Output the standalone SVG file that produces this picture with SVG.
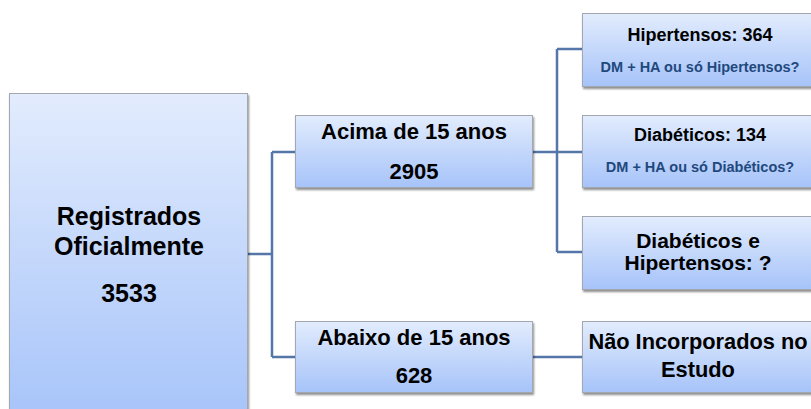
<svg xmlns="http://www.w3.org/2000/svg" width="811" height="409" viewBox="0 0 811 409">
<defs>
<linearGradient id="g" x1="0" y1="0" x2="0" y2="1">
<stop offset="0" stop-color="#e2ecfd"/>
<stop offset="1" stop-color="#a6c3f9"/>
</linearGradient>
<filter id="sh" x="-5%" y="-5%" width="115%" height="125%">
<feGaussianBlur in="SourceAlpha" stdDeviation="1.2"/>
<feOffset dx="1" dy="2" result="b"/>
<feComponentTransfer><feFuncA type="linear" slope="0.45"/></feComponentTransfer>
<feMerge><feMergeNode/><feMergeNode in="SourceGraphic"/></feMerge>
</filter>
</defs>
<style>
.box{fill:url(#g);stroke:#a3a8b0;stroke-width:1;filter:url(#sh)}
.t{font-family:"Liberation Sans",Arial,sans-serif;font-weight:bold;fill:#000;text-anchor:middle}
.s{font-family:"Liberation Sans",Arial,sans-serif;font-weight:bold;fill:#1f497d;text-anchor:middle;font-size:14.5px}
.c{fill:none;stroke:#5476a8;stroke-width:2.5}
</style>
<rect width="811" height="409" fill="#ffffff"/>
<g id="connectors">
<path class="c" d="M247 254 H272 M272 152 V357 M272 152 H295 M272 357 H295"/>
<path class="c" d="M533 152 H557 M557 49 V252 M557 49 H582 M557 152 H582 M557 252 H582"/>
<path class="c" d="M533 357 H582"/>
</g>
<g id="registrados">
<rect class="box" x="9.5" y="93.5" width="238" height="330"/>
<text class="t" x="129" y="225" font-size="25">Registrados</text>
<text class="t" x="129" y="255" font-size="25">Oficialmente</text>
<text class="t" x="129" y="302" font-size="25">3533</text>
</g>
<g id="acima">
<rect class="box" x="295.5" y="115.5" width="237" height="72"/>
<text class="t" x="414" y="139" font-size="22">Acima de 15 anos</text>
<text class="t" x="414" y="179" font-size="22">2905</text>
</g>
<g id="abaixo">
<rect class="box" x="295.5" y="321.5" width="237" height="71"/>
<text class="t" x="414" y="345" font-size="22">Abaixo de 15 anos</text>
<text class="t" x="414" y="383" font-size="22">628</text>
</g>
<g id="hipertensos">
<rect class="box" x="582.5" y="13.5" width="240" height="73"/>
<text class="t" x="700" y="41" font-size="18">Hipertensos: 364</text>
<text class="s" x="700" y="72">DM + HA ou só Hipertensos?</text>
</g>
<g id="diabeticos">
<rect class="box" x="582.5" y="115.5" width="240" height="72"/>
<text class="t" x="700" y="141" font-size="18">Diabéticos: 134</text>
<text class="s" x="700" y="172">DM + HA ou só Diabéticos?</text>
</g>
<g id="diab-hiper">
<rect class="box" x="582.5" y="216.5" width="240" height="73"/>
<text class="t" x="698" y="248" font-size="21">Diabéticos e</text>
<text class="t" x="698" y="270" font-size="21">Hipertensos: ?</text>
</g>
<g id="nao-incorporados">
<rect class="box" x="582.5" y="321.5" width="240" height="71"/>
<text class="t" x="698" y="349" font-size="21.8">Não Incorporados no</text>
<text class="t" x="698" y="377" font-size="21.8">Estudo</text>
</g>
</svg>
